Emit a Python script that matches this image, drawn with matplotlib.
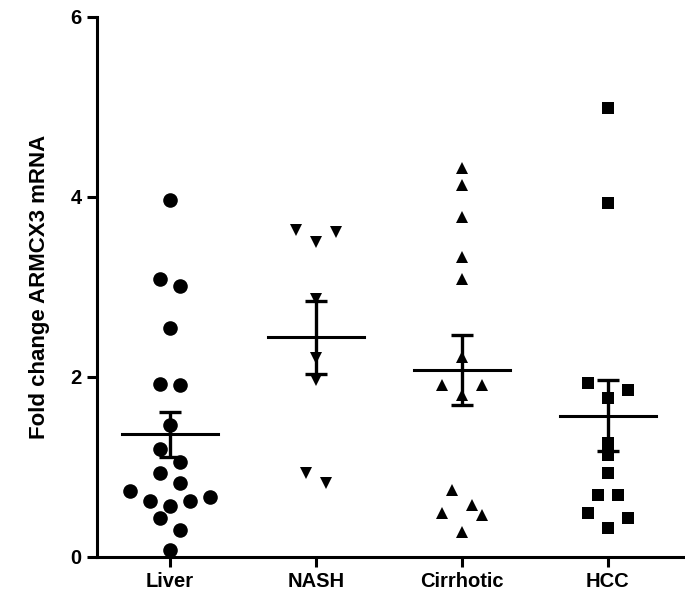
import numpy as np
import matplotlib
matplotlib.use("Agg")
from matplotlib import pyplot as plt

plt.rcParams['font.family'] = ['Liberation Sans', 'DejaVu Sans']
plt.rcParams['font.weight'] = 'bold'

groups = ['Liver', 'NASH', 'Cirrhotic', 'HCC']
liver = [3.97, 3.09, 3.01, 2.54, 1.92, 1.91, 1.47, 1.20, 1.06, 0.93,
         0.82, 0.73, 0.67, 0.62, 0.62, 0.57, 0.43, 0.30, 0.08]
nash = [3.63, 3.61, 3.50, 2.87, 2.21, 1.97, 0.93, 0.82]
cirrhotic = [4.32, 4.13, 3.78, 3.33, 3.09, 2.22, 1.91, 1.91, 1.80,
             0.74, 0.58, 0.49, 0.47, 0.28]
hcc = [4.99, 3.93, 1.93, 1.86, 1.77, 1.27, 1.13, 0.93, 0.69, 0.69,
       0.49, 0.43, 0.32]
values = [liver, nash, cirrhotic, hcc]
markers = ['o', 'v', '^', 's']
msizes = [10.5, 9, 9, 9.2]

fig = plt.figure(figsize=(6.85, 6.0), dpi=100)
ax = fig.add_axes([0.1416, 0.0717, 0.8584, 0.9])
ax.set_xlim(0.5, 4.53)
ax.set_ylim(0, 6)

# Prism-like scatter: bin by value, spread each bin symmetrically
binh = 0.25
step = 20 / 146.0


def spread(x0, ys):
    ys = np.asarray(ys)
    xs = np.full(len(ys), float(x0))
    bins = np.floor(ys / binh)
    for b in np.unique(bins):
        idx = np.where(bins == b)[0]
        idx = idx[np.argsort(ys[idx])]
        n = len(idx)
        if n % 2:
            slots = [0]
            k = 1
            while len(slots) < n:
                slots += [k, -k]
                k += 1
        else:
            slots = []
            k = 0.5
            while len(slots) < n:
                slots += [k, -k]
                k += 1
        for j, i in enumerate(idx):
            xs[i] = x0 + slots[j] * step
    return xs


for i, (vals, m, ms) in enumerate(zip(values, markers, msizes)):
    x0 = i + 1
    xs = spread(x0, vals)
    ax.plot(xs, vals, linestyle='none', marker=m, markersize=ms,
            color='black', markeredgewidth=0)
    mean = np.mean(vals)
    sem = np.std(vals, ddof=1) / np.sqrt(len(vals))
    ax.plot([x0 - 0.33, x0 + 0.33], [mean, mean], color='black', lw=2.2)
    ax.errorbar(x0, mean, yerr=sem, color='black', lw=2.4, capsize=7.8,
                capthick=2.4)

ax.spines['top'].set_visible(False)
ax.spines['right'].set_visible(False)
ax.spines['left'].set_linewidth(2.2)
ax.spines['bottom'].set_linewidth(2.2)
ax.set_xticks([1, 2, 3, 4])
ax.set_xticklabels(groups, fontsize=14.5, fontweight='bold')
ax.set_yticks([0, 2, 4, 6])
ax.set_yticklabels(['0', '2', '4', '6'], fontsize=14.5, fontweight='bold')
ax.tick_params(axis='both', width=2.2, length=7, pad=4)
ax.set_ylabel('Fold change ARMCX3 mRNA', fontsize=16, fontweight='bold',
              labelpad=15)

fig.savefig('out.png', dpi=100)
